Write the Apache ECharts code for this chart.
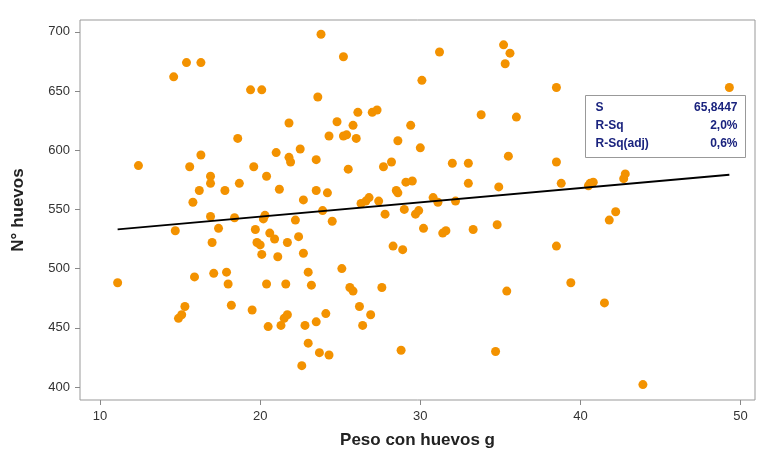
<!DOCTYPE html>
<html>
<head>
<meta charset="utf-8">
<script src="https://cdn.jsdelivr.net/npm/echarts@6/dist/echarts.min.js"></script>
<style>html,body{margin:0;padding:0;background:#fff}#c{width:759px;height:454px}</style>
</head>
<body>
<div id="c"></div>
<script>
// peso (g), n° huevos
const pesoVals = [11.1,12.4,14.6,14.7,14.9,15.1,15.3,15.4,15.6,15.8,15.9,16.3,16.2,16.3,16.9,16.9,16.9,17.0,17.1,17.4,17.8,17.9,18.0,18.2,18.4,18.6,18.7,19.4,19.5,19.6,19.7,19.8,20.0,20.1,20.1,20.2,20.3,20.4,20.4,20.5,20.6,20.9,21.0,21.1,21.2,21.3,21.5,21.6,21.7,21.7,21.8,21.8,21.9,22.2,22.4,22.5,22.6,22.7,22.7,22.8,23.0,23.0,23.2,23.5,23.5,23.5,23.6,23.7,23.8,23.9,24.1,24.2,24.3,24.3,24.5,24.8,25.1,25.2,25.2,25.4,25.5,25.6,25.8,25.8,26.0,26.1,26.2,26.3,26.4,26.6,26.8,26.9,27.0,27.3,27.4,27.6,27.7,27.8,28.2,28.3,28.5,28.6,28.6,28.8,28.9,29.0,29.1,29.4,29.5,29.7,29.9,30.0,30.1,30.2,30.8,31.1,31.2,31.4,31.6,32.0,32.2,33.0,33.0,33.3,33.8,34.7,34.8,34.9,35.2,35.3,35.4,35.5,35.6,36.0,38.5,38.5,38.5,38.8,39.4,40.5,40.6,40.8,41.5,41.8,42.2,42.7,42.8,43.9,49.3];
const huevosVals = [488,587,662,532,458,461,468,674,586,556,493,674,566,596,578,572,544,522,496,534,566,497,487,469,543,610,572,651,465,586,533,522,520,651,512,542,545,578,487,451,530,525,598,510,567,452,458,487,461,522,594,623,590,541,527,601,418,558,513,452,437,497,486,455,566,592,645,429,698,549,462,564,612,427,540,624,500,679,612,613,584,484,621,481,610,632,468,555,452,557,560,461,632,634,557,484,586,546,590,519,566,564,608,431,516,550,573,621,574,546,549,602,659,534,560,556,683,530,532,589,557,572,589,533,630,430,537,569,689,673,481,595,682,628,653,590,519,572,488,570,572,573,471,541,548,576,580,402,653];
const fitIntercept = 519.7, fitSlope = 1.21, fitRange = [11.1, 49.3];
const xTicks = [10, 20, 30, 40, 50];
const yTicks = [400, 450, 500, 550, 600, 650, 700];
const statLabels = ['S', 'R-Sq', 'R-Sq(adj)'];
const statValues = ['65,8447', '2,0%', '0,6%'];

const chart = echarts.init(document.getElementById('c'));
const pts = pesoVals.map((x, i) => [x, huevosVals[i]]);
const fit = fitRange.map(x => [x, fitIntercept + fitSlope * x]);
const lab = {color: '#333', fontSize: 13, fontFamily: 'Liberation Sans'};
chart.setOption({
  animation: false,
  grid: {left: 80, right: 4, top: 20, bottom: 54, show: true, borderColor: '#999', borderWidth: 1},
  xAxis: {
    type: 'value', min: 8.75, max: 50.9,
    name: 'Peso con huevos g', nameLocation: 'middle', nameGap: 32,
    nameTextStyle: {fontSize: 17, fontWeight: 'bold', color: '#222', fontFamily: 'Liberation Sans'},
    splitLine: {show: false}, axisLine: {show: false},
    axisTick: {show: true, customValues: xTicks, length: 5, lineStyle: {color: '#888'}},
    axisLabel: Object.assign({customValues: xTicks, margin: 10}, lab)
  },
  yAxis: {
    type: 'value', min: 389, max: 710,
    name: 'N° huevos', nameLocation: 'middle', nameGap: 53,
    nameTextStyle: {fontSize: 17, fontWeight: 'bold', color: '#222', fontFamily: 'Liberation Sans'},
    splitLine: {show: false}, axisLine: {show: false},
    axisTick: {show: true, customValues: yTicks, length: 5, lineStyle: {color: '#888'}},
    axisLabel: Object.assign({customValues: yTicks, margin: 10}, lab)
  },
  graphic: [{
    type: 'group', left: 585, top: 95,
    children: [
      {type: 'rect', shape: {x: 0, y: 0, width: 160, height: 62}, style: {fill: '#fff', stroke: '#999', lineWidth: 1}}
    ].concat(statLabels.map((t, i) => ({type: 'text', x: 10, y: 6 + i * 18, style: {text: t, fill: '#1a237e', font: 'bold 12px Liberation Sans'}})))
     .concat(statValues.map((t, i) => ({type: 'text', x: 152, y: 6 + i * 18, style: {text: t, fill: '#1a237e', font: 'bold 12px Liberation Sans', align: 'right'}})))
  }],
  series: [
    {type: 'scatter', data: pts, symbolSize: 9, itemStyle: {color: '#f39200', opacity: 1}},
    {type: 'line', data: fit, symbol: 'none', lineStyle: {color: '#000', width: 2}}
  ]
});
</script>
</body>
</html>
